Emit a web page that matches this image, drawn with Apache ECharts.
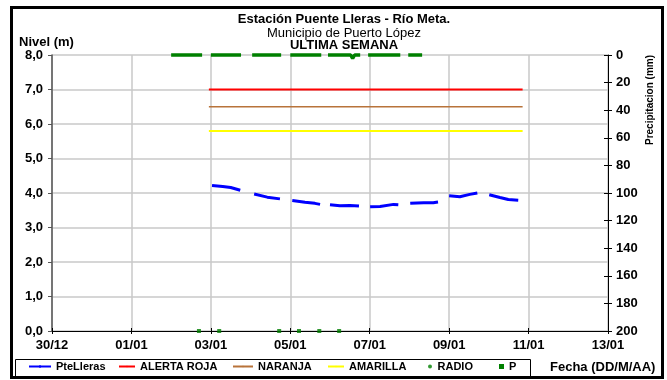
<!DOCTYPE html>
<html>
<head>
<meta charset="utf-8">
<script src="https://cdn.jsdelivr.net/npm/echarts@6/dist/echarts.min.js"></script>
<style>html,body{margin:0;padding:0;background:#fff}#c{width:667px;height:380px}</style>
</head>
<body>
<div id="c"></div>
<script>
// ---- data (x = days since 30/12 00:00) ----
const xTickLabels = ['30/12','01/01','03/01','05/01','07/01','09/01','11/01','13/01'];
const levelTicks = [0,1,2,3,4,5,6,7,8];
const precipTicks = [0,20,40,60,80,100,120,140,160,180,200];

const levelDays   = [4.03,4.30,4.50,4.74, 4.90, 5.09,5.42,5.74, 5.90, 6.05,6.37,6.62,6.75, 6.88, 7.00,7.25,7.50,7.73, 7.87, 8.01,8.26,8.60,8.72, 8.87, 9.02,9.36,9.60,9.72, 9.86, 10.00,10.27,10.52,10.71, 10.86, 11.01,11.28,11.49,11.74];
const levelValues = [4.22,4.19,4.16,4.08, null, 3.97,3.88,3.83, null, 3.78,3.73,3.70,3.67, null, 3.66,3.63,3.64,3.62, null, 3.60,3.61,3.67,3.66, null, 3.70,3.72,3.72,3.74, null, 3.92,3.89,3.96,4.00, null, 3.95,3.87,3.81,3.79];

const alertDays = [3.95, 11.85];
const alertRoja = [7.0, 7.0];
const alertNaranja = [6.5, 6.5];
const alertAmarilla = [5.8, 5.8];

const radioDays = [3.70, 4.21, 5.72, 6.22, 6.73, 7.23];
const radioValues = [0, 0, 0, 0, 0, 0];

const pDays   = [3.00,3.78, 3.90, 4.00,4.76, 4.90, 5.04,5.77, 5.90, 6.00,6.78, 6.87, 6.95,7.52,7.57,7.62,7.76, 7.86, 7.96,8.77, 8.87, 8.97,9.32];
const pValues = [0,0, null, 0,0, null, 0,0, null, 0,0, null, 0,0,2.5,0,0, null, 0,0, null, 0,0];

const seriesNames = ['PteLleras','ALERTA ROJA','NARANJA','AMARILLA','RADIO','P'];
const seriesColors = ['#0000ff','#ff0000','#b8733a','#ffff00','#008000','#008000'];

function pairs(xs, ys){ return xs.map((x,i)=>[x, ys[i]]); }

const chart = echarts.init(document.getElementById('c'), null, {renderer:'canvas'});
const F = 'Liberation Sans, Arial, sans-serif';
const gridRect = {left:52, right:59, top:55, bottom:49};

// legend placement (layout only)
const legendLeft = [28, 118, 232, 327, 428, 499];
const legendIconW = [22, 16, 20, 16, 5, 5];
const legendIconH = [3, 2, 2, 2, 4, 5];
const legendIcons = [null, null, null, null, 'circle', 'rect'];

const legends = seriesNames.map((n,i)=>({
  data:[legendIcons[i] ? {name:n, icon:legendIcons[i]} : {name:n}],
  left: legendLeft[i], top: 361, orient:'horizontal',
  itemWidth: legendIconW[i], itemHeight: legendIconH[i], padding:0,
  selectedMode:false,
  textStyle:{fontFamily:F, fontSize:11, fontWeight:'bold', color:'#000'}
}));

const option = {
  animation:false,
  textStyle:{fontFamily:F},
  grid: gridRect,
  legend: legends,
  graphic:[
    {type:'rect', shape:{x:11.5, y:7.5, width:651, height:370}, style:{fill:'none', stroke:'#000', lineWidth:3}, z:100},
    {type:'rect', shape:{x:15.5, y:359.5, width:515, height:17}, style:{fill:'none', stroke:'#000', lineWidth:1}, z:100},
    {type:'text', x:344, y:19, style:{text:'Estación Puente Lleras - Río Meta.', font:'bold 13px '+F, fill:'#000', align:'center', verticalAlign:'middle'}},
    {type:'text', x:344, y:33, style:{text:'Municipio de Puerto López', font:'13px '+F, fill:'#000', align:'center', verticalAlign:'middle'}},
    {type:'text', x:344, y:45.5, style:{text:'ULTIMA SEMANA', font:'bold 13px '+F, fill:'#000', align:'center', verticalAlign:'middle'}},
    {type:'text', x:19, y:42, style:{text:'Nivel (m)', font:'bold 13px '+F, fill:'#000', align:'left', verticalAlign:'middle'}},
    {type:'text', x:550, y:367, style:{text:'Fecha (DD/M/AA)', font:'bold 13px '+F, fill:'#000', align:'left', verticalAlign:'middle'}},
    {type:'text', x:650, y:100, rotation:Math.PI/2, style:{text:'Precipitacion (mm)', font:'bold 10px '+F, fill:'#000', align:'center', verticalAlign:'middle'}}
  ],
  xAxis:[
    {type:'value', min:0, max:14, interval:2, position:'bottom',
     axisLine:{show:true, onZero:false, lineStyle:{color:'#000', width:1}},
     axisTick:{show:true, inside:false, length:3, lineStyle:{color:'#000'}},
     axisLabel:{margin:8, fontFamily:F, fontSize:13, fontWeight:'bold', color:'#000',
       formatter:v=>xTickLabels[Math.round(v/2)]},
     splitLine:{show:true, lineStyle:{color:'#c8c8c8', width:1.5}}},
    {type:'value', min:0, max:14, interval:2, position:'bottom',
     axisLine:{show:false, onZero:false}, axisTick:{show:true, inside:true, length:3, lineStyle:{color:'#000'}},
     axisLabel:{show:false}, splitLine:{show:false}}
  ],
  yAxis:[
    {type:'value', min:0, max:8, interval:1, position:'left',
     axisLine:{show:true, onZero:false, lineStyle:{color:'#555', width:1.5}},
     axisTick:{show:true, inside:false, length:4, lineStyle:{color:'#555'}},
     axisLabel:{margin:9, fontFamily:F, fontSize:13, fontWeight:'bold', color:'#000',
       formatter:v=>v.toFixed(1).replace('.',',')},
     splitLine:{show:true, lineStyle:{color:'#c8c8c8', width:1.5}}},
    {type:'value', min:0, max:200, interval:20, inverse:true, position:'right',
     axisLine:{show:true, onZero:false, lineStyle:{color:'#000', width:1}},
     axisTick:{show:true, inside:false, length:4, lineStyle:{color:'#000'}},
     axisLabel:{margin:8, fontFamily:F, fontSize:13, fontWeight:'bold', color:'#000',
       formatter:v=>String(precipTicks[Math.round(v/20)])},
     splitLine:{show:false}},
    {type:'value', min:0, max:200, interval:20, inverse:true, position:'right',
     axisLine:{show:false, onZero:false},
     axisTick:{show:true, inside:true, length:4, lineStyle:{color:'#000'}},
     axisLabel:{show:false}, splitLine:{show:false}}
  ],
  series:[
    {name:seriesNames[0], type:'line', data:pairs(levelDays, levelValues), showSymbol:false, symbol:'none',
     connectNulls:false, color:seriesColors[0], lineStyle:{width:3, color:seriesColors[0]}, z:5},
    {name:seriesNames[1], type:'line', data:pairs(alertDays, alertRoja), symbol:'none', color:seriesColors[1], lineStyle:{width:2, color:seriesColors[1]}, z:4},
    {name:seriesNames[2], type:'line', data:pairs(alertDays, alertNaranja), symbol:'none', color:seriesColors[2], lineStyle:{width:1.5, color:seriesColors[2]}, z:4},
    {name:seriesNames[3], type:'line', data:pairs(alertDays, alertAmarilla), symbol:'none', color:seriesColors[3], lineStyle:{width:2, color:seriesColors[3]}, z:4},
    {name:seriesNames[4], type:'scatter', data:pairs(radioDays, radioValues), symbol:'rect', symbolSize:4, color:seriesColors[4], clip:false, z:6},
    {name:seriesNames[5], type:'line', yAxisIndex:1, data:pairs(pDays, pValues), symbol:'none', connectNulls:false, clip:false,
     color:seriesColors[5], lineStyle:{width:3.5, color:seriesColors[5]}, z:6}
  ]
};
chart.setOption(option);
</script>
</body>
</html>
